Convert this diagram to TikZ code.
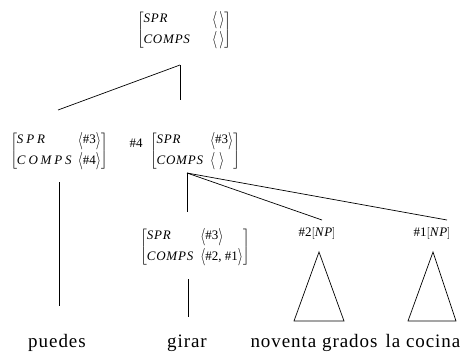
\documentclass[tikz,border=0pt]{standalone}
\usepackage{graphicx}
\usepackage{fontspec}
\setmainfont{Liberation Serif}
\newfontface\avmlab{Liberation Serif Italic}[LetterSpace=6]
\newfontface\avmlabwide{Liberation Serif Italic}[LetterSpace=22]
\newfontface\wordfont{Liberation Serif}[LetterSpace=5]
\newcommand{\angl}{\raisebox{-1.2pt}{\scalebox{1.1}[1.45]{$\langle$}}}
\newcommand{\angr}{\raisebox{-1.2pt}{\scalebox{1.1}[1.45]{$\rangle$}}}
\newcommand{\ang}[1]{\angl#1\angr}
\newcommand{\avmb}[5]{$\left[\begin{tabular}{@{}l@{\hspace{#1}}l@{}}#2&#3\\[4pt]#4&#5\end{tabular}\right]$}
\begin{document}
\begin{tikzpicture}[x=1pt,y=-1pt,line width=0.7pt,
  avm/.style={inner sep=0pt,font=\fontsize{13}{16}\selectfont},
  tag/.style={inner sep=0pt,font=\fontsize{13}{16}\selectfont},
  word/.style={inner sep=0pt,anchor=base,font=\fontsize{19}{22}\selectfont\wordfont}]
\useasboundingbox (0,0) rectangle (465,356);
% AVM nodes
\node[avm] (top) at (184,30) {\avmb{22pt}{\avmlab SPR}{\ang{\,}}{\avmlab COMPS}{\ang{\,}}};
\node[avm] (left) at (59,151) {\avmb{6pt}{\avmlabwide SPR}{\ang{\#3}}{\avmlabwide COMPS}{\ang{\#4}}};
\node[avm] (mid) at (195,151) {\avmb{7pt}{\avmlab SPR}{\ang{\#3}}{\avmlab COMPS}{\ang{\hspace{4pt}}}};
\node[tag] (t4) at (136,143) {\#4};
\node[avm] (gir) at (195,247) {\avmb{7pt}{\avmlab SPR}{\ang{\#3}}{\avmlab COMPS}{\ang{\#2, \#1}}};
\node[tag] (np2) at (317,233) {\#2$\bigl[$\avmlab NP$\bigr]$};
\node[tag] (np1) at (432,233) {\#1$\bigl[$\avmlab NP$\bigr]$};
% words
\node[word] (w1) at (57,347) {puedes};
\node[word] (w2) at (187,347) {girar};
\node[word] (w3) at (314,347) {noventa grados};
\node[word] (w4) at (423,347) {la cocina};
% branch points
\coordinate (j1) at (180,65);
\coordinate (e1) at (58,110);
\coordinate (e2) at (180,100);
\coordinate (l1) at (59,182);
\coordinate (l2) at (59,306);
\coordinate (j2) at (187,173);
\coordinate (e3) at (187,212);
\coordinate (e4) at (322,220);
\coordinate (e5) at (447,220);
\coordinate (g1) at (188,279);
\coordinate (g2) at (188,317);
\coordinate (a2) at (319,252);
\coordinate (b2l) at (294,321);
\coordinate (b2r) at (344,321);
\coordinate (a1) at (433,252);
\coordinate (b1l) at (408,321);
\coordinate (b1r) at (456,321);
% connectors
\draw (j1) -- (e1);
\draw (j1) -- (e2);
\draw (l1) -- (l2);
\draw (j2) -- (e3);
\draw (j2) -- (e4);
\draw (j2) -- (e5);
\draw (g1) -- (g2);
\draw (a2) -- (b2l) -- (b2r) -- cycle;
\draw (a1) -- (b1l) -- (b1r) -- cycle;
\end{tikzpicture}
\end{document}
